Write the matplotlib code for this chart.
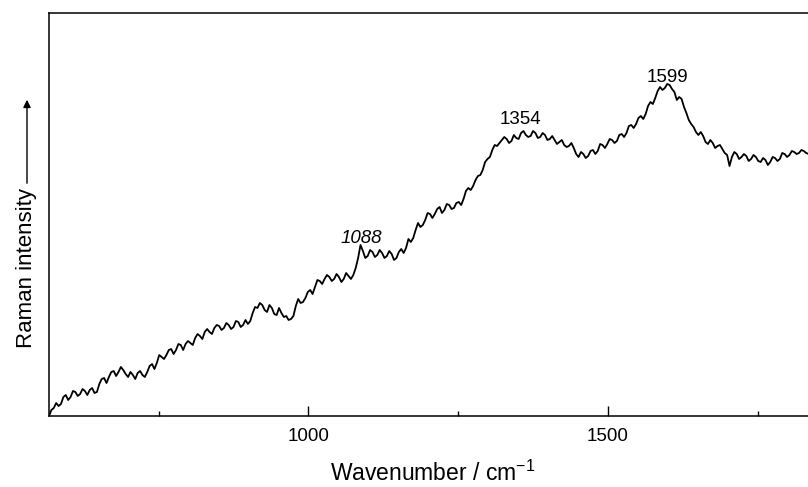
import matplotlib
matplotlib.use("Agg")
from matplotlib import pyplot as plt

plt.rcParams['font.family'] = ['Liberation Sans', 'DejaVu Sans']
plt.rcParams['mathtext.fontset'] = 'custom'
plt.rcParams['mathtext.rm'] = 'Liberation Sans'
plt.rcParams['mathtext.it'] = 'Liberation Sans:italic'

# spectrum (wavenumber / cm-1, intensity in arbitrary units)
wavenumber = [
    567, 575, 583, 591, 599, 607, 615, 623, 631, 639, 647, 655, 663, 671, 679, 687,
    695, 703, 711, 719, 727, 735, 743, 751, 759, 767, 775, 783, 791, 799, 807, 815,
    823, 831, 839, 847, 855, 863, 871, 879, 887, 895, 903, 911, 919, 927, 935, 943,
    951, 959, 967, 975, 983, 991, 999, 1007, 1015, 1023, 1031, 1039, 1047, 1055, 1063,
    1071, 1079, 1087, 1095, 1103, 1111, 1119, 1127, 1135, 1143, 1151, 1159, 1167, 1175,
    1183, 1191, 1199, 1207, 1215, 1223, 1231, 1239, 1247, 1255, 1263, 1271, 1279, 1287,
    1295, 1303, 1311, 1319, 1327, 1335, 1343, 1351, 1359, 1367, 1375, 1383, 1391, 1399,
    1407, 1415, 1423, 1431, 1439, 1447, 1455, 1463, 1471, 1479, 1487, 1495, 1503, 1511,
    1519, 1527, 1535, 1543, 1551, 1559, 1567, 1575, 1583, 1591, 1599, 1607, 1615, 1623,
    1631, 1639, 1647, 1655, 1663, 1671, 1679, 1687, 1695, 1703, 1711, 1719, 1727, 1735,
    1743, 1751, 1759, 1767, 1775, 1783, 1791, 1799, 1807, 1815, 1823, 1831, 1839,
]
intensity = [
    0, 8, 10, 19, 16, 25, 20, 27, 21, 28, 24, 37, 33, 44, 40, 49,
    42, 44, 37, 45, 39, 50, 47, 61, 57, 66, 62, 72, 66, 75, 71, 82,
    77, 87, 82, 91, 86, 93, 87, 95, 89, 96, 95, 109, 113, 106, 111, 102,
    108, 99, 96, 100, 117, 114, 124, 122, 136, 132, 141, 135, 142, 134, 143,
    137, 148, 171, 158, 166, 159, 166, 158, 165, 156, 164, 163, 177, 178,
    193, 191, 203, 198, 207, 203, 212, 207, 213, 211, 225, 226, 236, 241,
    254, 259, 271, 273, 279, 273, 281, 277, 285, 279, 285, 278, 283, 276,
    280, 272, 276, 269, 273, 262, 264, 258, 265, 262, 272, 268, 277, 273,
    281, 279, 290, 288, 298, 297, 310, 312, 325, 326, 332, 327, 316, 317,
    303, 292, 284, 284, 274, 276, 268, 271, 263, 250, 264, 257, 262, 255,
    261, 255, 258, 251, 259, 255, 263, 259, 265, 262, 266, 263, 265,
]
# in-between readings of the noisy trace
wavenumber_mid = [
    571, 579, 587, 595, 603, 611, 619, 627, 635, 643, 651, 659, 667, 675, 683, 691,
    699, 707, 715, 723, 731, 739, 747, 755, 763, 771, 779, 787, 795, 803, 811, 819,
    827, 835, 843, 851, 859, 867, 875, 883, 891, 899, 907, 915, 923, 931, 939, 947,
    955, 963, 971, 979, 987, 995, 1003, 1011, 1019, 1027, 1035, 1043, 1051, 1059, 1067, 1075,
    1083, 1091, 1099, 1107, 1115, 1123, 1131, 1139, 1147, 1155, 1163, 1171, 1179, 1187, 1195, 1203,
    1211, 1219, 1227, 1235, 1243, 1251, 1259, 1267, 1275, 1283, 1291, 1299, 1307, 1315, 1323, 1331,
    1339, 1347, 1355, 1363, 1371, 1379, 1387, 1395, 1403, 1411, 1419, 1427, 1435, 1443, 1451, 1459,
    1467, 1475, 1483, 1491, 1499, 1507, 1515, 1523, 1531, 1539, 1547, 1555, 1563, 1571, 1579, 1587,
    1595, 1603, 1611, 1619, 1627, 1635, 1643, 1651, 1659, 1667, 1675, 1683, 1691, 1699, 1707, 1715,
    1723, 1731, 1739, 1747, 1755, 1763, 1771, 1779, 1787, 1795, 1803, 1811, 1819, 1827, 1835,
]
intensity_mid = [
    6, 13, 12, 21, 19, 24, 22, 25, 26, 23, 32, 38, 39, 45, 44, 46,
    39, 41, 43, 41, 44, 52, 53, 59, 61, 67, 66, 71, 72, 73, 78, 80,
    84, 84, 88, 90, 88, 91, 89, 94, 91, 92, 103, 108, 111, 104, 108, 101,
    103, 100, 97, 110, 113, 118, 126, 129, 135, 137, 139, 137, 139, 137, 140, 141,
    158, 165, 160, 164, 161, 163, 160, 162, 158, 167, 168, 174, 186, 189, 196, 202,
    202, 209, 206, 211, 208, 214, 217, 228, 230, 240, 246, 257, 266, 270, 276, 277,
    275, 278, 283, 281, 280, 283, 279, 281, 277, 276, 274, 271, 270, 268, 259, 262,
    260, 266, 265, 271, 272, 276, 275, 282, 283, 291, 292, 300, 302, 314, 318, 329,
    328, 331, 324, 319, 309, 296, 289, 281, 280, 272, 273, 270, 267, 261, 259, 262,
    259, 260, 257, 259, 254, 256, 254, 258, 257, 262, 261, 264, 263, 265, 262,
]

peak_pos = [1088, 1354, 1599]
peak_height = [173, 292, 334]
peak_text = ["1088", "1354", "1599"]
peak_italic = [True, False, False]

spectrum = sorted(zip(wavenumber + wavenumber_mid, intensity + intensity_mid))
xs = [p[0] for p in spectrum]
ys = [p[1] for p in spectrum]

fig = plt.figure(figsize=(8.08, 4.87), dpi=100)
ax = fig.add_axes([49 / 808, 71.3 / 487, 1 - 49 / 808, 402.4 / 487])

ax.plot(xs, ys, color="black", lw=1.3)

for x, y, t, it in zip(peak_pos, peak_height, peak_text, peak_italic):
    ax.text(x, y, t, ha="center", va="baseline", fontsize=13.5,
            style="italic" if it else "normal")

ax.set_xlim(567, 1834)
ax.set_ylim(0.3, 402.7)
ax.set_xticks([1000, 1500])
ax.set_xticks([750, 1250, 1750], minor=True)
ax.set_yticks([])
ax.tick_params(axis="x", which="major", direction="in", length=7, width=1, labelsize=13.5, pad=9)
ax.tick_params(axis="x", which="minor", direction="in", length=3.5, width=1)
ax.spines["right"].set_visible(False)
for s in ["left", "top", "bottom"]:
    ax.spines[s].set_linewidth(1.1)

fig.text(0.535, 6 / 487, "Wavenumber / cm$^{-1}$", ha="center", va="baseline", fontsize=16.5)
fig.text(27 / 808, 1 - 268.5 / 487, "Raman intensity", rotation=90, ha="center", va="center", fontsize=16)
fig.add_artist(matplotlib.patches.FancyArrowPatch(
    (27 / 808, 1 - 186 / 487), (27 / 808, 1 - 97 / 487), transform=fig.transFigure,
    arrowstyle="-|>", mutation_scale=11, lw=1, color="black"))

plt.savefig("out.png")
